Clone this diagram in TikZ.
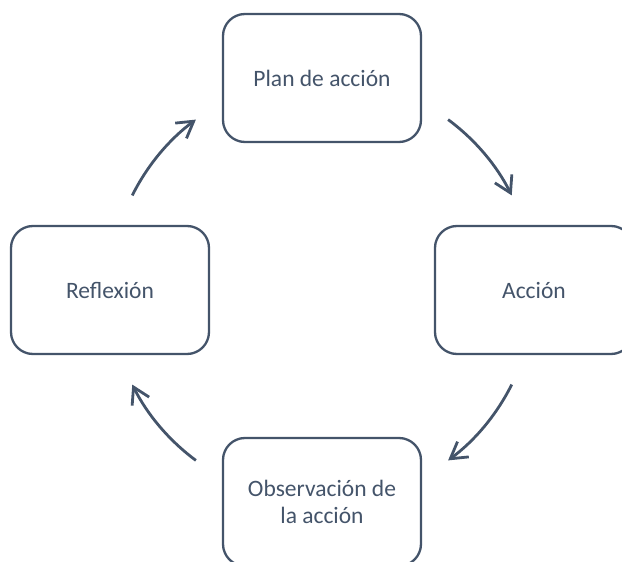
\documentclass[tikz,border=0pt]{standalone}
\usepackage{fontspec}
\setmainfont{Carlito}
\usepackage{xcolor}
\usepackage{tikz}
\usetikzlibrary{arrows.meta, positioning}
\definecolor{slate}{HTML}{44546A}
\tikzset{
    stage/.style={rectangle, draw=slate, line width=2.3pt, rounded corners=22pt, fill=white, align=center, minimum width=198pt, minimum height=128pt, text=slate, font=\fontsize{23.5}{27}\selectfont},
    cyc/.style={-{Straight Barb[length=16pt, width=19pt]}, draw=slate, line width=2.8pt}
}

\begin{document}
\begin{tikzpicture}
    \useasboundingbox (-322pt,-272pt) rectangle (300pt,290pt);
    \coordinate (ctr) at (0,0);

    % Stages
    \node[stage] (plan) at ([yshift=212pt]ctr) {Plan de acción};
    \node[stage] (accion) at ([xshift=212pt]ctr) {Acción};
    \node[stage] (obs) at ([yshift=-212pt]ctr) {Observación de\\la acción};
    \node[stage] (refl) at ([xshift=-212pt]ctr) {Reflexión};

    % Cycle arrows
    \foreach \s/\e in {53.5/26.5, -26.5/-53.5, -126.5/-153.5, 153.5/126.5}
        \draw[cyc] ([shift={(\s:212pt)}]ctr) arc[start angle=\s, end angle=\e, radius=212pt];
\end{tikzpicture}
\end{document}
